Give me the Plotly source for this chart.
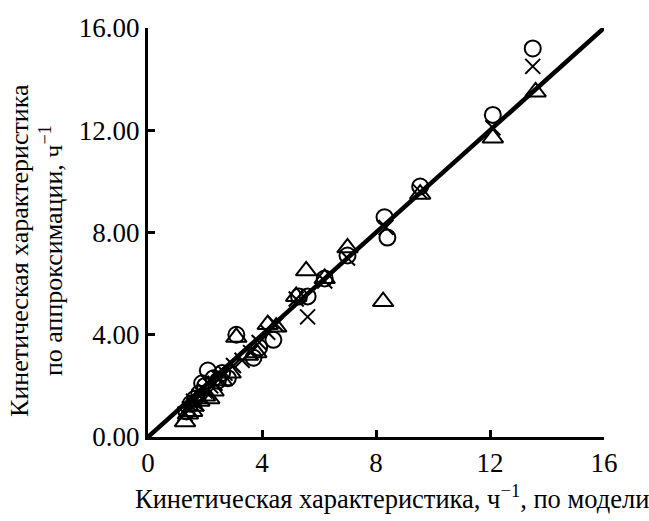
import plotly.graph_objects as go

# Circles series
circ_x = [1.35, 1.5, 1.65, 1.8, 1.9, 2.0, 2.1, 2.3, 2.45, 2.6, 2.8, 3.1, 3.7, 3.9, 4.4, 5.3, 5.6, 6.2, 7.0, 8.3, 8.4, 9.55, 12.1, 13.5]
circ_y = [1.0, 1.3, 1.5, 1.7, 2.1, 2.0, 2.6, 2.3, 2.2, 2.5, 2.3, 4.0, 3.1, 3.5, 3.8, 5.5, 5.5, 6.2, 7.1, 8.6, 7.8, 9.8, 12.6, 15.2]
# Crosses series
cross_x = [1.3, 1.45, 1.6, 1.7, 1.8, 2.0, 2.2, 2.35, 2.5, 2.7, 3.0, 3.3, 3.6, 3.9, 4.2, 4.5, 5.2, 5.6, 6.2, 7.0, 8.35, 9.55, 12.1, 13.5]
cross_y = [0.9, 1.1, 1.4, 1.3, 1.6, 1.8, 2.0, 2.1, 2.3, 2.5, 2.8, 3.0, 3.3, 3.7, 4.1, 4.4, 5.4, 4.7, 6.1, 7.0, 8.2, 9.6, 12.1, 14.5]
# Triangles series
tri_x = [1.3, 1.4, 1.55, 1.6, 1.8, 2.0, 2.15, 2.3, 2.6, 2.9, 3.1, 3.5, 3.8, 4.2, 4.5, 5.2, 5.55, 6.2, 7.0, 8.25, 9.55, 12.1, 13.6]
tri_y = [0.6, 0.9, 1.0, 1.2, 1.4, 1.6, 1.5, 1.8, 2.2, 2.5, 3.9, 3.2, 3.3, 4.4, 4.3, 5.5, 6.5, 6.2, 7.4, 5.3, 9.5, 11.7, 13.5]
# Identity line
line_x = [0, 16]
line_y = [0, 16]

x_ticks = [0, 4, 8, 12, 16]
y_ticks = [0, 4, 8, 12, 16]
y_tick_labels = ["0.00", "4.00", "8.00", "12.00", "16.00"]

font = "Liberation Serif, Times New Roman, serif"

fig = go.Figure()
fig.add_trace(go.Scatter(x=line_x, y=line_y, mode="lines",
                         line=dict(color="black", width=4.5), showlegend=False))
fig.add_trace(go.Scatter(x=circ_x, y=circ_y, mode="markers",
                         marker=dict(symbol="circle-open", size=16, color="black", line=dict(width=2)),
                         showlegend=False))
fig.add_trace(go.Scatter(x=cross_x, y=cross_y, mode="markers",
                         marker=dict(symbol="x-thin-open", size=15, color="black", line=dict(width=2)),
                         showlegend=False))
fig.add_trace(go.Scatter(x=tri_x, y=tri_y, mode="markers",
                         marker=dict(symbol="triangle-up-open", size=18, color="black", line=dict(width=2)),
                         showlegend=False))

fig.update_layout(
    width=649, height=521,
    margin=dict(l=148, r=45, t=28, b=84),
    plot_bgcolor="white", paper_bgcolor="white",
    font=dict(family=font, size=27, color="black"),
    xaxis=dict(range=[0, 16], tickvals=x_ticks, ticktext=[str(v) for v in x_ticks],
               showgrid=False, zeroline=False, showline=True, linecolor="black", linewidth=3,
               ticks="inside", ticklen=7, tickwidth=3, tickcolor="black",
               tickfont=dict(size=27, family=font)),
    yaxis=dict(range=[0, 16], tickvals=y_ticks, ticktext=y_tick_labels,
               showgrid=False, zeroline=False, showline=True, linecolor="black", linewidth=3,
               ticks="inside", ticklen=7, tickwidth=3, tickcolor="black",
               tickfont=dict(size=27, family=font)),
    annotations=[
        dict(text="Кинетическая характеристика, ч<sup>−1</sup>, по модели",
             xref="paper", yref="paper", x=0.5, y=-0.147, xshift=16,
             xanchor="center", yanchor="middle", showarrow=False,
             font=dict(size=26.5, family=font)),
        dict(text="Кинетическая характеристика<br>по аппроксимации, ч<sup>−1</sup>",
             xref="paper", yref="paper", x=0, y=0.455, xshift=-111,
             xanchor="center", yanchor="middle", showarrow=False, textangle=-90,
             font=dict(size=26, family=font)),
    ],
)

fig.write_html("out.html")
